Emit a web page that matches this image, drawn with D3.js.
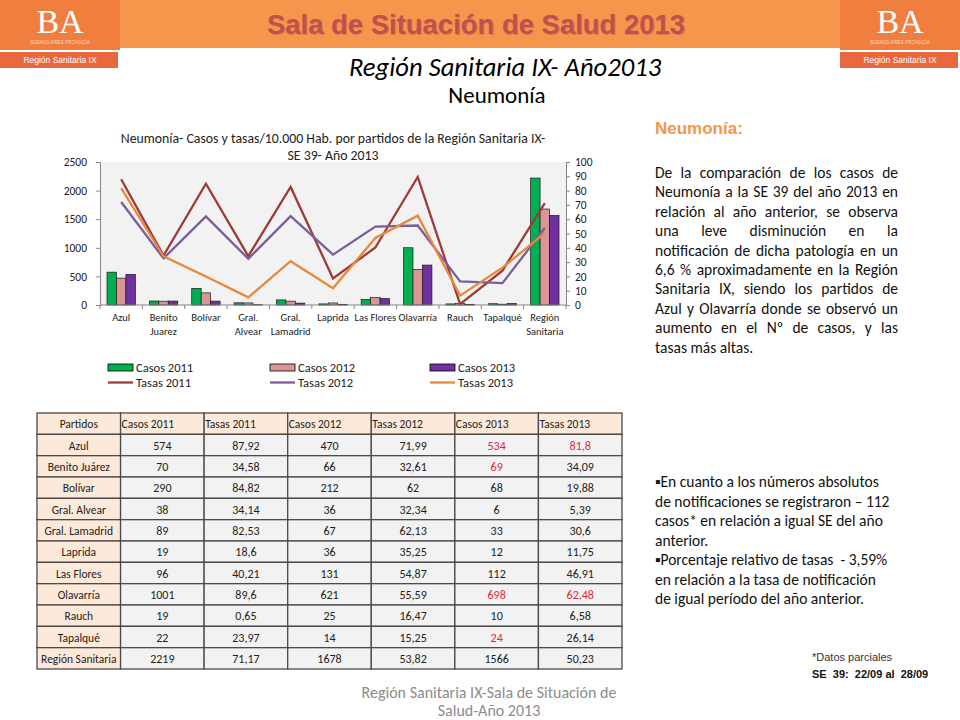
<!DOCTYPE html>
<html><head><meta charset="utf-8">
<script src="https://cdn.jsdelivr.net/npm/d3@7"></script>
<style>body{margin:0;background:#fff}svg{display:block}</style>
</head><body><svg id="c" width="960" height="720"></svg>
<script>
// ---------- DATA ----------
const partidos = ["Azul","Benito Juárez","Bolívar","Gral. Alvear","Gral. Lamadrid","Laprida","Las Flores","Olavarría","Rauch","Tapalqué","Región Sanitaria"];
const axisLabels = [["Azul"],["Benito","Juarez"],["Bolívar"],["Gral.","Alvear"],["Gral.","Lamadrid"],["Laprida"],["Las Flores"],["Olavarría"],["Rauch"],["Tapalqué"],["Región","Sanitaria"]];
const casos2011 = [574,70,290,38,89,19,96,1001,19,22,2219];
const casos2012 = [470,66,212,36,67,36,131,621,25,14,1678];
const casos2013 = [534,69,68,6,33,12,112,698,10,24,1566];
const tasas2011 = [87.92,34.58,84.82,34.14,82.53,18.6,40.21,89.6,0.65,23.97,71.17];
const tasas2012 = [71.99,32.61,62,32.34,62.13,35.25,54.87,55.59,16.47,15.25,53.82];
const tasas2013 = [81.8,34.09,19.88,5.39,30.6,11.75,46.91,62.48,6.58,26.14,50.23];
const leftTicks = [0,500,1000,1500,2000,2500];
const rightTicks = [0,10,20,30,40,50,60,70,80,90,100];
const tableHeaders = ["Partidos","Casos 2011","Tasas 2011","Casos 2012","Tasas 2012","Casos 2013","Tasas 2013"];
const redCells = [[0,5],[0,6],[1,5],[7,5],[7,6],[9,5]];
const barSeries = [
  {name:"Casos 2011", values:casos2011, color:"#00B050"},
  {name:"Casos 2012", values:casos2012, color:"#D99694"},
  {name:"Casos 2013", values:casos2013, color:"#7030A0"}];
const lineSeries = [
  {name:"Tasas 2011", values:tasas2011, color:"#9E3B39"},
  {name:"Tasas 2012", values:tasas2012, color:"#7A5E9C"},
  {name:"Tasas 2013", values:tasas2013, color:"#E9883A"}];
const bodyLines = ["De la comparación de los casos de","Neumonía a la SE 39 del año 2013 en","relación al año anterior, se observa","una leve disminución en la","notificación de dicha patología en un","6,6 % aproximadamente en la Región","Sanitaria IX, siendo los partidos de","Azul y Olavarría donde se observó un","aumento en el Nº de casos, y las","tasas más altas."];
const bulletLines = ["▪En cuanto a los números absolutos","de notificaciones se registraron – 112","casos* en relación a igual SE del año","anterior.","▪Porcentaje relativo de tasas  - 3,59%","en relación a la tasa de notificación","de igual período del año anterior."];

const CAL = "Carlito, Lato, 'Open Sans', sans-serif";
const svg = d3.select("#c");

// ---------- HEADER ----------
svg.append("rect").attr("x",0).attr("y",0).attr("width",960).attr("height",48).attr("fill","#F6964C");
function logo(x0){
  const g = svg.append("g").attr("transform",`translate(${x0},0)`);
  g.append("rect").attr("width",120).attr("height",50).attr("fill","#F07F3F");
  g.append("rect").attr("y",52).attr("width",118).attr("height",16).attr("fill","#E9683F");
  g.append("text").attr("x",60).attr("y",33).attr("text-anchor","middle").attr("fill","#fff")
    .attr("font-family","'Liberation Serif', serif").attr("font-size",34).text("BA");
  g.append("text").attr("x",60).attr("y",44).attr("text-anchor","middle").attr("fill","#FBD9C2")
    .attr("font-family","'Liberation Sans', sans-serif").attr("font-size",4.5).text("BUENOS AIRES PROVINCIA");
  g.append("text").attr("x",60).attr("y",63).attr("text-anchor","middle").attr("fill","#fff")
    .attr("font-family","'Liberation Sans', sans-serif").attr("font-size",8.5).text("Región Sanitaria IX");
}
logo(0); logo(840);
svg.append("text").attr("x",477).attr("y",35).attr("text-anchor","middle").attr("fill","#E0784A")
  .attr("font-family","'Liberation Sans Narrow','Liberation Sans',sans-serif").attr("font-weight","bold").attr("font-size",28)
  .attr("textLength",418).attr("lengthAdjust","spacingAndGlyphs").text("Sala de Situación de Salud 2013");
svg.append("text").attr("x",476).attr("y",34).attr("text-anchor","middle").attr("fill","#C0504D")
  .attr("font-family","'Liberation Sans Narrow','Liberation Sans',sans-serif").attr("font-weight","bold").attr("font-size",28)
  .attr("textLength",418).attr("lengthAdjust","spacingAndGlyphs").text("Sala de Situación de Salud 2013");

svg.append("text").attr("x",505).attr("y",76).attr("text-anchor","middle").attr("fill","#000")
  .attr("font-family",CAL).attr("font-style","italic").attr("font-size",26.6).text("Región Sanitaria IX- Año2013");
svg.append("text").attr("x",497).attr("y",103).attr("text-anchor","middle").attr("fill","#000")
  .attr("font-family",CAL).attr("font-size",23).text("Neumonía");

// ---------- CHART ----------
const L=100, R=566, T=162, B=305;
const x0 = d3.scaleBand().domain(partidos).range([L,R]);
const bw = x0.bandwidth();
const x1 = d3.scaleBand().domain(barSeries.map(d=>d.name)).range([bw*0.165, bw*0.835]);
const yL = d3.scaleLinear().domain([0,2500]).range([B,T]);
const yR = d3.scaleLinear().domain([0,100]).range([B,T]);

svg.append("rect").attr("x",L).attr("y",T).attr("width",R-L).attr("height",B-T).attr("fill","#F2F2F2");

svg.append("text").attr("x",333).attr("y",143).attr("text-anchor","middle").attr("font-family",CAL).attr("font-size",13.8).attr("fill","#222")
  .text("Neumonía-  Casos y tasas/10.000 Hab. por partidos de la Región Sanitaria IX-");
svg.append("text").attr("x",333).attr("y",160).attr("text-anchor","middle").attr("font-family",CAL).attr("font-size",13.8).attr("fill","#222")
  .text("SE 39- Año 2013");

// bars
barSeries.forEach(s=>{
  svg.append("g").selectAll("rect").data(s.values).join("rect")
    .attr("x",(d,i)=>x0(partidos[i])+x1(s.name))
    .attr("y",d=>yL(d)).attr("width",x1.bandwidth()).attr("height",d=>B-yL(d))
    .attr("fill",s.color).attr("stroke","#1a1a1a").attr("stroke-width",0.7);
});
// lines
const lineGen = d3.line().x((d,i)=>x0(partidos[i])+bw/2).y(d=>yR(d));
lineSeries.forEach(s=>{
  svg.append("path").datum(s.values).attr("d",lineGen).attr("fill","none")
    .attr("stroke",s.color).attr("stroke-width",2.3).attr("stroke-linejoin","miter");
});

// axes
const axL = svg.append("g").attr("transform",`translate(${L},0)`)
  .call(d3.axisLeft(yL).tickValues(leftTicks).tickSize(4).tickPadding(9).tickFormat(d3.format("d")));
const axR = svg.append("g").attr("transform",`translate(${R},0)`)
  .call(d3.axisRight(yR).tickValues(rightTicks).tickSize(4).tickPadding(5).tickFormat(d3.format("d")));
[axL,axR].forEach(a=>{
  a.selectAll("path,line").attr("stroke","#868686");
  a.selectAll("text").attr("font-family",CAL).attr("font-size",11.5).attr("fill","#222");
});
// x axis line and boundary ticks
svg.append("line").attr("x1",L).attr("x2",R).attr("y1",B).attr("y2",B).attr("stroke","#868686");
const bounds = partidos.map(p=>x0(p)).concat([R]);
svg.append("g").selectAll("line").data(bounds).join("line")
  .attr("x1",d=>d).attr("x2",d=>d).attr("y1",B).attr("y2",B+4).attr("stroke","#868686");
const xl = svg.append("g").selectAll("text").data(axisLabels).join("text")
  .attr("text-anchor","middle").attr("font-family",CAL).attr("font-size",10.5).attr("fill","#222")
  .attr("transform",(d,i)=>`translate(${x0(partidos[i])+bw/2},${B+16})`);
xl.selectAll("tspan").data(d=>d).join("tspan").attr("x",0).attr("dy",(d,i)=>i?14:0).text(d=>d);

// legend
const legX = [108,270,430];
barSeries.forEach((s,i)=>{
  svg.append("rect").attr("x",legX[i]).attr("y",364).attr("width",25).attr("height",7)
    .attr("fill",s.color).attr("stroke","#000").attr("stroke-width",0.8);
  svg.append("text").attr("x",legX[i]+28).attr("y",372).attr("font-family",CAL).attr("font-size",12.5).attr("fill","#222").text(s.name);
});
lineSeries.forEach((s,i)=>{
  svg.append("line").attr("x1",legX[i]).attr("x2",legX[i]+25).attr("y1",382.5).attr("y2",382.5)
    .attr("stroke",s.color).attr("stroke-width",2.3);
  svg.append("text").attr("x",legX[i]+28).attr("y",387).attr("font-family",CAL).attr("font-size",12.5).attr("fill","#222").text(s.name);
});

// ---------- TABLE ----------
const rowsKeys = ["__h"].concat(partidos);
const tx = d3.scaleBand().domain(tableHeaders).range([37,622]);
const ty = d3.scaleBand().domain(rowsKeys).range([413,669]);
const cw = tx.bandwidth(), rh = ty.bandwidth();
const cols = [null,casos2011,tasas2011,casos2012,tasas2012,casos2013,tasas2013];
const fmt = v => String(v).replace(".",",");
const tg = svg.append("g");
rowsKeys.forEach((rk,ri)=>{
  tableHeaders.forEach((h,ci)=>{
    const isHead = ri===0, isFirst = ci===0;
    tg.append("rect").attr("x",tx(h)).attr("y",ty(rk)).attr("width",cw).attr("height",rh)
      .attr("fill",(isHead||isFirst)?"#FDE9D9":"#F2F2F2").attr("stroke","#4a4a4a").attr("stroke-width",1.3);
    let txt, anchor="middle", xx=tx(h)+cw/2, fs=12, col="#222";
    if(isHead){ txt=h; fs=11.5; if(ci>0){anchor="start"; xx=tx(h)+1;} }
    else if(isFirst){ txt=rk; fs=11.5; }
    else {
      txt = fmt(cols[ci][ri-1]);
      if(redCells.some(c=>c[0]===ri-1&&c[1]===ci)) col="#E0263A";
    }
    const t = tg.append("text").attr("x",xx).attr("y",ty(rk)+rh/2+4.5).attr("text-anchor",anchor)
      .attr("font-family",CAL).attr("font-size",fs).attr("fill",col).text(txt);
    if(isFirst && !isHead && t.node().getComputedTextLength()>cw-2){
      t.attr("textLength",cw-2).attr("lengthAdjust","spacingAndGlyphs");
    }
  });
});

// ---------- RIGHT PANEL ----------
svg.append("text").attr("x",655).attr("y",134).attr("fill","#F79646").attr("font-weight","bold")
  .attr("font-family","'Liberation Sans Narrow','Liberation Sans',sans-serif").attr("font-size",17).text("Neumonía:");
const jx0=655, jx1=898, bodyFs=15.5;
bodyLines.forEach((ln,i)=>{
  const y = 178 + i*19.4;
  const t = svg.append("text").attr("y",y).attr("font-family",CAL).attr("font-size",bodyFs).attr("fill","#111");
  const words = ln.split(" ");
  if(i===bodyLines.length-1){ t.attr("x",jx0).text(ln); return; }
  const spans = words.map(w=>t.append("tspan").text(w));
  let widths = spans.map(s=>s.node().getComputedTextLength());
  let sum = d3.sum(widths);
  const minGap = 3;
  if(sum + minGap*(words.length-1) > jx1-jx0){
    const k = (jx1-jx0-minGap*(words.length-1))/sum;
    spans.forEach((s,j)=>s.attr("textLength",widths[j]*k).attr("lengthAdjust","spacingAndGlyphs"));
    widths = widths.map(w=>w*k);
    sum = d3.sum(widths);
  }
  const gap = (jx1-jx0-sum)/(words.length-1);
  let cx = jx0;
  spans.forEach((s,k)=>{ s.attr("x",cx); cx += widths[k]+gap; });
});
bulletLines.forEach((ln,i)=>{
  svg.append("text").attr("x",655).attr("y",487+i*19.5).attr("font-family",CAL).attr("font-size",15.5)
    .attr("fill","#111").attr("xml:space","preserve").text(ln);
});
svg.append("text").attr("x",812).attr("y",661).attr("font-family","'Liberation Sans Narrow','Liberation Sans',sans-serif")
  .attr("font-size",11).attr("fill","#333").text("*Datos parciales");
svg.append("text").attr("x",812).attr("y",678).attr("font-family","'Liberation Sans Narrow','Liberation Sans',sans-serif")
  .attr("font-size",11).attr("font-weight","bold").attr("fill","#111").attr("xml:space","preserve").text("SE  39:  22/09 al  28/09");

// ---------- FOOTER ----------
svg.append("text").attr("x",489).attr("y",698).attr("text-anchor","middle").attr("font-family",CAL).attr("font-size",16)
  .attr("fill","#8C8C8C").text("Región Sanitaria IX-Sala de Situación de");
svg.append("text").attr("x",489).attr("y",716).attr("text-anchor","middle").attr("font-family",CAL).attr("font-size",16)
  .attr("fill","#8C8C8C").text("Salud-Año 2013");
</script></body></html>
